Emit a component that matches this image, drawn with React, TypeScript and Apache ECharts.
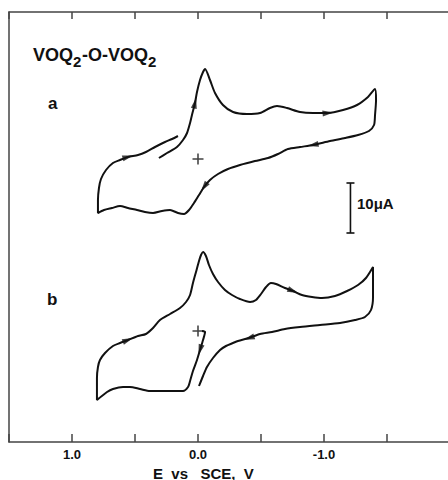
import React, { useEffect, useRef } from "react";
import * as echarts from "echarts";

// Potential (V vs SCE) and current (µA, relative to each trace's "+" origin)
const curveA: [number, number][] = [
  [0.310, 0.2], [0.246, 1.2], [0.167, 2.4], [0.119, 3.8], [0.087, 5.2], [0.063, 7.2],
  [0.048, 8.8], [0.024, 11.2], [0.008, 13.4], [-0.016, 15.8], [-0.040, 17.4], [-0.056, 18.0],
  [-0.095, 15.8], [-0.135, 13.2], [-0.198, 10.8], [-0.278, 9.4], [-0.389, 9.0], [-0.492, 9.2],
  [-0.571, 10.2], [-0.627, 10.6], [-0.706, 10.2], [-0.810, 9.4], [-0.913, 9.2], [-1.032, 9.2],
  [-1.151, 9.8], [-1.262, 10.8], [-1.349, 12.4], [-1.405, 14.0], [-1.413, 11.8], [-1.405, 8.8],
  [-1.397, 6.8], [-1.357, 5.6], [-1.270, 4.8], [-1.167, 4.2], [-1.048, 3.6], [-0.913, 2.8],
  [-0.810, 2.4], [-0.714, 2.0], [-0.635, 1.0], [-0.556, 0.2], [-0.452, -0.4], [-0.333, -1.2],
  [-0.238, -2.0], [-0.159, -3.0], [-0.095, -4.2], [-0.048, -5.6], [-0.008, -7.2], [0.032, -8.8],
  [0.071, -10.2], [0.111, -11.0], [0.159, -10.8], [0.222, -10.2], [0.286, -10.4], [0.357, -10.8],
  [0.421, -10.6], [0.484, -10.2], [0.556, -9.8], [0.619, -9.4], [0.683, -9.8], [0.746, -10.2],
  [0.794, -10.8], [0.794, -8.2], [0.786, -5.8], [0.770, -4.0], [0.730, -2.2], [0.675, -0.8],
  [0.619, -0.2], [0.556, 0.4], [0.476, 0.8], [0.413, 1.4], [0.341, 2.4], [0.262, 3.4],
  [0.206, 4.0], [0.159, 4.6],
];

const curveB: [number, number][] = [
  [-0.032, 0.0], [-0.056, -0.2], [-0.040, -1.8], [-0.016, -3.8], [0.008, -5.8], [0.040, -8.0],
  [0.063, -10.0], [0.079, -11.2], [0.119, -12.0], [0.222, -12.0], [0.381, -12.0], [0.460, -11.6],
  [0.540, -11.2], [0.595, -11.2], [0.675, -11.6], [0.722, -12.2], [0.802, -13.8], [0.802, -11.8],
  [0.802, -9.4], [0.794, -7.2], [0.778, -5.8], [0.738, -4.4], [0.675, -3.0], [0.619, -2.4],
  [0.556, -1.8], [0.476, -1.0], [0.413, -0.6], [0.357, 0.6], [0.302, 2.2], [0.222, 3.4],
  [0.143, 4.6], [0.095, 5.8], [0.063, 7.2], [0.040, 9.6], [0.016, 11.8], [-0.008, 14.0],
  [-0.024, 15.2], [-0.040, 15.8], [-0.063, 15.0], [-0.087, 13.2], [-0.119, 11.4], [-0.159, 9.8],
  [-0.214, 8.2], [-0.270, 7.2], [-0.333, 6.4], [-0.413, 5.8], [-0.460, 6.2], [-0.500, 7.4],
  [-0.540, 8.8], [-0.579, 9.6], [-0.619, 9.4], [-0.690, 8.6], [-0.754, 8.0], [-0.825, 7.2],
  [-0.905, 6.8], [-0.984, 6.6], [-1.087, 7.0], [-1.183, 8.0], [-1.270, 9.2], [-1.333, 10.6],
  [-1.389, 12.8], [-1.389, 9.8], [-1.389, 6.8], [-1.373, 4.2], [-1.325, 2.8], [-1.246, 2.2],
  [-1.127, 1.6], [-0.968, 1.2], [-0.810, 0.8], [-0.690, 0.4], [-0.587, -0.2], [-0.492, -0.6],
  [-0.405, -1.4], [-0.317, -2.0], [-0.278, -2.4], [-0.222, -3.0], [-0.175, -3.8], [-0.119, -5.4],
  [-0.071, -7.2], [-0.040, -9.0], [-0.008, -11.0],
];

// scan-direction arrows, placed on the traces
const arrowsA: [number, number][] = [[0.024, 11.2], [-1.032, 9.2], [-0.913, 2.8], [-0.048, -5.6], [0.556, 0.4]];
const arrowsB: [number, number][] = [[0.556, -1.8], [-0.754, 8.0], [-0.405, -1.4], [-0.016, -3.8]];

// "+" origin (0 V, 0 µA) of each trace
const originA: [number, number][] = [[0, 0]];
const originB: [number, number][] = [[0, 0]];

// 10 µA scale bar (on trace a's current scale)
const scaleBarE = -1.21;
const scaleBarI: number[] = [-4.8, -14.8];

const tickLabels: number[] = [1.0, 0.0, -1.0];

const FONT = "'Liberation Sans', Arial, Helvetica, sans-serif";
const INK = "#111";
const FRAME = "#444";

export default function App() {
  const ref = useRef<HTMLDivElement>(null);

  useEffect(() => {
    if (!ref.current) return;
    const chart = echarts.init(ref.current, null, { renderer: "svg" });

    const plus = "path://M4.3,0H5.7V4.3H10V5.7H5.7V10H4.3V5.7H0V4.3H4.3Z";
    const bold = (text: string, x: number, y: number, size: number) => ({
      type: "text",
      x,
      y,
      style: { text, fontFamily: FONT, fontWeight: "bold", fontSize: size, fill: INK, verticalAlign: "middle" },
    });

    const option: any = {
      animation: false,
      grid: { left: 9, top: 12, width: 441, height: 430, containLabel: false, outerBoundsMode: "none" },
      xAxis: [
        {
          type: "value",
          position: "bottom",
          min: -2,
          max: 1.5,
          interval: 0.5,
          inverse: true,
          axisLine: { show: true, onZero: false, lineStyle: { color: FRAME, width: 1.5 } },
          axisTick: { show: true, inside: true, length: 8, lineStyle: { color: FRAME, width: 1.5 } },
          splitLine: { show: false },
          axisLabel: {
            color: INK,
            fontFamily: FONT,
            fontWeight: "bold",
            fontSize: 13,
            margin: 6,
            formatter: (v: number) =>
              tickLabels.some((t) => Math.abs(t - v) < 1e-9) ? v.toFixed(1) : "",
          },
        },
        {
          type: "value",
          position: "top",
          min: -2,
          max: 1.5,
          interval: 0.5,
          inverse: true,
          axisLine: { show: true, onZero: false, lineStyle: { color: FRAME, width: 1.5 } },
          axisTick: { show: true, inside: true, length: 7, lineStyle: { color: FRAME, width: 1.5 } },
          axisLabel: { show: false },
          splitLine: { show: false },
        },
      ],
      yAxis: [
        {
          type: "value",
          position: "left",
          min: -56.6,
          max: 29.4,
          axisLine: { show: true, onZero: false, lineStyle: { color: FRAME, width: 1.5 } },
          axisTick: { show: false },
          axisLabel: { show: false },
          splitLine: { show: false },
        },
        {
          type: "value",
          position: "right",
          min: -22.2,
          max: 63.8,
          show: false,
          axisLine: { show: false },
          axisTick: { show: false },
          axisLabel: { show: false },
          splitLine: { show: false },
        },
      ],
      series: [
        {
          type: "line",
          data: curveA,
          xAxisIndex: 0,
          yAxisIndex: 0,
          showSymbol: false,
          smooth: 0.25,
          lineStyle: { color: INK, width: 2 },
          silent: true,
        },
        {
          type: "line",
          data: curveB,
          xAxisIndex: 0,
          yAxisIndex: 1,
          showSymbol: false,
          smooth: 0.25,
          lineStyle: { color: INK, width: 2 },
          silent: true,
        },
        {
          type: "scatter",
          data: [],
          xAxisIndex: 0,
          yAxisIndex: 0,
          symbol: "triangle",
          symbolSize: [6, 11],
          itemStyle: { color: INK },
          silent: true,
          z: 5,
        },
        {
          type: "scatter",
          data: [],
          xAxisIndex: 0,
          yAxisIndex: 1,
          symbol: "triangle",
          symbolSize: [6, 11],
          itemStyle: { color: INK },
          silent: true,
          z: 5,
        },
        {
          type: "scatter",
          data: originA,
          xAxisIndex: 0,
          yAxisIndex: 0,
          symbol: plus,
          symbolSize: 11,
          itemStyle: { color: INK },
          silent: true,
        },
        {
          type: "scatter",
          data: originB,
          xAxisIndex: 0,
          yAxisIndex: 1,
          symbol: plus,
          symbolSize: 11,
          itemStyle: { color: INK },
          silent: true,
        },
        {
          type: "line",
          data: scaleBarI.map((i) => [scaleBarE, i]),
          xAxisIndex: 0,
          yAxisIndex: 0,
          symbol: "rect",
          symbolSize: [8, 1.6],
          showSymbol: true,
          itemStyle: { color: INK },
          lineStyle: { color: INK, width: 1.6 },
          silent: true,
        },
      ],
      graphic: [
        bold("VOQ", 33, 55, 18),
        bold("2", 73, 61, 15),
        bold("-O-VOQ", 82, 55, 18),
        bold("2", 148, 61, 15),
        bold("a", 48, 103, 17),
        bold("b", 47, 299, 17),
        bold("10μA", 357, 203, 15),
        bold("E  vs   SCE,  V", 153, 473, 15),
      ],
    };

    chart.setOption(option);

    const arrowData = (curve: [number, number][], arrows: [number, number][], seriesIndex: number) =>
      arrows.map((p) => {
        let best = 1;
        let bestD = Infinity;
        for (let i = 1; i < curve.length - 1; i++) {
          const d = Math.hypot(curve[i][0] - p[0], (curve[i][1] - p[1]) / 50);
          if (d < bestD) {
            bestD = d;
            best = i;
          }
        }
        const a = chart.convertToPixel({ seriesIndex }, curve[best - 1]) as number[];
        const b = chart.convertToPixel({ seriesIndex }, curve[best + 1]) as number[];
        const theta = (Math.atan2(-(b[1] - a[1]), b[0] - a[0]) * 180) / Math.PI;
        return { value: p, symbolRotate: theta - 90 };
      });

    chart.setOption({
      series: [
        {},
        {},
        { data: arrowData(curveA, arrowsA, 0) },
        { data: arrowData(curveB, arrowsB, 1) },
      ],
    });

    return () => chart.dispose();
  }, []);

  return (
    <div style={{ position: "fixed", left: 0, top: 0, width: 448, height: 480, overflow: "hidden", background: "#fff" }}>
      <div ref={ref} style={{ width: 448, height: 480 }} />
    </div>
  );
}
